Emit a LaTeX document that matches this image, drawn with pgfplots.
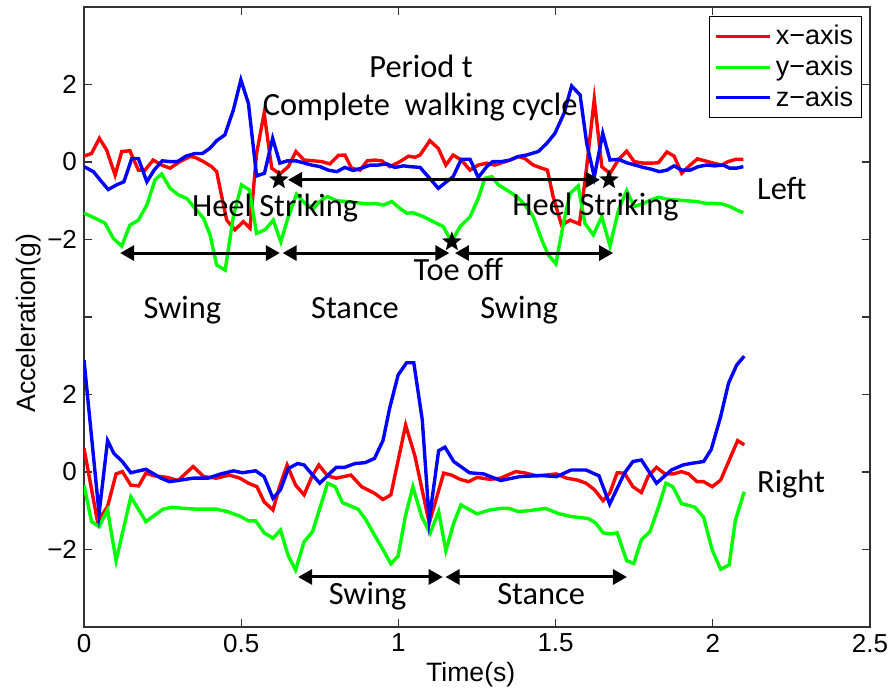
\documentclass[border=0pt]{standalone}
\usepackage{pgfplots}
\pgfplotsset{compat=1.18}
\usepackage{pgfplotstable}
\usepackage{fontspec}
\setmainfont{Liberation Sans}
\newfontfamily\annfont{Carlito}
\usetikzlibrary{arrows.meta}

% filled five-pointed star used for gait events
\pgfdeclareplotmark{fstar}{%
  \pgfpathmoveto{\pgfpointpolar{90}{\pgfplotmarksize}}%
  \pgfpathlineto{\pgfpointpolar{126}{0.42\pgfplotmarksize}}%
  \pgfpathlineto{\pgfpointpolar{162}{\pgfplotmarksize}}%
  \pgfpathlineto{\pgfpointpolar{198}{0.42\pgfplotmarksize}}%
  \pgfpathlineto{\pgfpointpolar{234}{\pgfplotmarksize}}%
  \pgfpathlineto{\pgfpointpolar{270}{0.42\pgfplotmarksize}}%
  \pgfpathlineto{\pgfpointpolar{306}{\pgfplotmarksize}}%
  \pgfpathlineto{\pgfpointpolar{342}{0.42\pgfplotmarksize}}%
  \pgfpathlineto{\pgfpointpolar{18}{\pgfplotmarksize}}%
  \pgfpathlineto{\pgfpointpolar{54}{0.42\pgfplotmarksize}}%
  \pgfpathclose\pgfusepathqfill}

% ---- left foot sensor (plotted with +8 g offset) ----
\pgfplotstableread{
t a
0 0.15
0.024 0.22
0.049 0.61
0.072 0.31
0.099 -0.34
0.12 0.27
0.146 0.29
0.173 -0.21
0.194 -0.21
0.22 0.05
0.247 -0.08
0.274 -0.16
0.305 0.01
0.337 0.14
0.353 0.12
0.38 0.01
0.406 -0.12
0.422 -0.25
0.438 -0.89
0.454 -1.5
0.48 -1.75
0.507 -1.54
0.528 -1.71
0.549 0.22
0.573 1.26
0.597 -0.16
0.623 -0.31
0.65 -0.12
0.674 0.27
0.7 0.05
0.73 0.03
0.756 0.01
0.782 -0.05
0.809 0.17
0.83 0.18
0.851 -0.16
0.878 -0.21
0.901 0.03
0.926 0.05
0.947 0.03
0.973 -0.12
1.005 0.01
1.032 0.15
1.053 0.12
1.069 0.18
1.1 0.55
1.127 0.35
1.151 -0.08
1.174 0.18
1.2 0.05
1.228 -0.21
1.254 -0.08
1.281 -0.03
1.307 -0.08
1.355 0.05
1.381 0.14
1.402 0.09
1.429 -0.08
1.456 -0.16
1.474 -0.21
1.492 -0.89
1.519 -1.63
1.546 -1.5
1.576 -1.6
1.599 -0.12
1.623 1.62
1.647 -0.12
1.673 -0.3
1.699 0.05
1.726 0.28
1.75 0.01
1.779 -0.03
1.803 -0.03
1.827 -0.02
1.854 0.26
1.877 0.15
1.901 -0.29
1.928 -0.08
1.951 0.08
1.975 0.03
2.002 -0.03
2.028 -0.08
2.049 0.01
2.074 0.07
2.097 0.07
}\leftx

\pgfplotstableread{
t a
0 -1.32
0.035 -1.45
0.067 -1.58
0.093 -1.97
0.12 -2.17
0.146 -1.63
0.173 -1.5
0.2 -1.11
0.226 -0.46
0.247 -0.31
0.274 -0.68
0.3 -0.85
0.327 -0.94
0.353 -1.2
0.38 -1.45
0.401 -1.88
0.422 -2.66
0.449 -2.79
0.475 -1.41
0.501 -0.59
0.526 -0.72
0.549 -1.84
0.576 -1.75
0.602 -1.5
0.626 -2.06
0.65 -1.41
0.676 -0.83
0.703 -1.07
0.73 -1.2
0.75 -1.02
0.774 -0.89
0.804 -1.0
0.835 -1.02
0.867 -1.05
0.899 -1.08
0.926 -1.07
0.952 -1.11
0.979 -1.02
1.005 -1.2
1.026 -1.32
1.047 -1.31
1.079 -1.41
1.111 -1.54
1.143 -1.67
1.169 -2.06
1.196 -1.67
1.228 -1.41
1.254 -0.94
1.275 -0.42
1.297 -0.38
1.318 -0.59
1.344 -0.72
1.376 -0.89
1.403 -1.11
1.429 -1.41
1.456 -2.01
1.477 -2.4
1.501 -2.63
1.525 -1.58
1.546 -0.81
1.572 -0.62
1.593 -1.58
1.62 -1.88
1.647 -1.41
1.673 -2.17
1.7 -1.24
1.726 -0.74
1.75 -1.15
1.779 -1.07
1.803 -0.98
1.827 -0.91
1.854 -0.96
1.885 -0.98
1.916 -1.0
1.948 -1.02
1.98 -1.07
2.006 -1.07
2.028 -1.08
2.055 -1.15
2.076 -1.24
2.097 -1.31
}\lefty

\pgfplotstableread{
t a
0 -0.12
0.03 -0.25
0.051 -0.46
0.077 -0.71
0.104 -0.59
0.127 -0.51
0.152 0.09
0.173 0.09
0.2 -0.51
0.223 -0.21
0.249 0.03
0.274 0.01
0.297 0.01
0.324 0.15
0.353 0.22
0.377 0.22
0.4 0.35
0.422 0.55
0.448 0.7
0.475 1.34
0.499 2.12
0.523 1.51
0.549 -0.36
0.574 -0.29
0.6 0.61
0.623 -0.03
0.647 0.03
0.674 0.03
0.698 -0.02
0.724 -0.08
0.751 -0.12
0.777 -0.21
0.804 -0.25
0.83 -0.14
0.856 -0.22
0.883 -0.16
0.91 -0.08
0.936 -0.08
0.963 -0.05
0.989 -0.14
1.016 -0.1
1.037 -0.12
1.069 -0.14
1.095 -0.38
1.127 -0.68
1.153 -0.51
1.174 -0.38
1.2 0.07
1.228 0.07
1.254 -0.4
1.281 -0.12
1.3 0.01
1.328 0.01
1.355 0.05
1.381 0.14
1.408 0.18
1.445 0.27
1.472 0.48
1.498 0.74
1.527 1.26
1.551 1.96
1.578 1.73
1.599 0.48
1.623 -0.38
1.65 0.74
1.673 0.05
1.7 0.07
1.726 -0.02
1.753 -0.08
1.779 -0.14
1.806 -0.19
1.83 -0.25
1.854 -0.21
1.877 -0.1
1.901 -0.21
1.928 -0.21
1.954 -0.12
1.98 -0.08
2.006 -0.1
2.033 -0.08
2.054 -0.16
2.075 -0.16
2.097 -0.12
}\leftz

% ---- right foot sensor ----
\pgfplotstableread{
t a
0 0.61
0.043 -1.28
0.075 -0.89
0.102 -0.05
0.122 0.01
0.149 -0.34
0.174 -0.36
0.197 -0.03
0.224 -0.1
0.265 -0.14
0.299 -0.22
0.347 0.14
0.381 -0.12
0.421 -0.16
0.462 -0.08
0.496 -0.16
0.523 -0.29
0.55 -0.38
0.573 -0.77
0.601 -0.98
0.622 -0.38
0.646 0.18
0.673 -0.34
0.7 -0.59
0.727 -0.08
0.747 0.18
0.775 -0.1
0.802 -0.16
0.849 -0.08
0.883 -0.38
0.924 -0.55
0.951 -0.71
0.976 -0.59
1.023 1.21
1.053 0.4
1.098 -1.32
1.144 -0.03
1.169 -0.08
1.196 -0.19
1.223 -0.25
1.25 -0.14
1.291 -0.19
1.325 -0.16
1.373 0.01
1.4 -0.02
1.44 -0.1
1.468 -0.08
1.502 -0.05
1.536 -0.16
1.57 -0.21
1.597 -0.29
1.624 -0.46
1.651 -0.74
1.672 -0.55
1.696 -0.02
1.719 -0.03
1.746 -0.38
1.773 -0.53
1.794 -0.12
1.821 0.12
1.848 -0.05
1.875 -0.05
1.9 0.01
1.923 -0.05
1.95 -0.25
1.971 -0.25
1.998 -0.38
2.025 -0.21
2.079 0.81
2.1 0.7
}\rightx

\pgfplotstableread{
t a
0 -0.34
0.024 -1.28
0.048 -1.41
0.075 -0.98
0.102 -2.29
0.149 -0.64
0.197 -1.28
0.251 -0.96
0.279 -0.91
0.319 -0.94
0.36 -0.96
0.421 -0.96
0.455 -1.02
0.496 -1.14
0.523 -1.26
0.546 -1.26
0.573 -1.57
0.601 -1.71
0.625 -1.5
0.65 -2.17
0.673 -2.53
0.7 -1.8
0.727 -1.54
0.775 -0.29
0.799 -0.38
0.822 -0.79
0.872 -0.96
0.897 -1.24
0.924 -1.63
0.951 -2.0
0.976 -2.37
0.999 -2.17
1.022 -1.15
1.046 -0.38
1.074 -1.15
1.101 -1.58
1.128 -1.02
1.151 -2.03
1.176 -1.32
1.199 -0.85
1.25 -1.08
1.291 -0.98
1.325 -0.94
1.352 -0.94
1.38 -1.02
1.413 -1.0
1.468 -0.94
1.508 -1.07
1.549 -1.15
1.604 -1.2
1.628 -1.32
1.651 -1.57
1.674 -1.6
1.696 -1.57
1.726 -2.29
1.749 -2.36
1.773 -1.75
1.8 -1.54
1.828 -0.89
1.851 -0.29
1.873 -0.38
1.9 -0.81
1.943 -0.91
1.971 -1.17
1.998 -2.01
2.025 -2.51
2.052 -2.4
2.072 -1.24
2.1 -0.51
}\righty

\pgfplotstableread{
t a
0 2.89
0.048 -1.07
0.075 0.81
0.095 0.48
0.122 0.27
0.149 -0.02
0.197 0.07
0.245 -0.16
0.272 -0.25
0.306 -0.21
0.347 -0.16
0.394 -0.16
0.435 -0.05
0.476 0.03
0.503 -0.02
0.546 0.03
0.573 -0.12
0.601 -0.68
0.625 -0.46
0.65 0.09
0.68 0.22
0.7 0.18
0.75 -0.29
0.802 0.12
0.829 0.12
0.863 0.22
0.894 0.24
0.924 0.35
0.951 0.81
0.972 1.64
0.999 2.5
1.026 2.82
1.049 2.82
1.076 1.34
1.098 -1.24
1.128 0.55
1.148 0.64
1.176 0.27
1.226 -0.02
1.271 -0.05
1.325 -0.22
1.386 -0.12
1.453 -0.09
1.503 -0.12
1.549 0.05
1.597 0.05
1.638 -0.1
1.672 -0.83
1.719 -0.03
1.746 0.27
1.773 0.31
1.821 -0.29
1.868 0.05
1.905 0.18
1.93 0.22
1.971 0.27
1.995 0.58
2.025 1.43
2.05 2.29
2.076 2.76
2.1 2.99
}\rightz

\begin{document}
\begin{tikzpicture}
\path[use as bounding box] (-42pt,-33.5pt) rectangle (403.5pt,313.5pt);
\begin{axis}[
  scale only axis, width=393pt, height=310pt,
  xmin=0, xmax=2.5, ymin=-4, ymax=12,
  xtick={0,0.5,1,1.5,2,2.5}, xticklabels={0,0.5,1,1.5,2,2.5},
  ytick={-2,0,2,4,6,8,10}, yticklabels={−2,0,2,,−2,0,2},
  tick align=inside, major tick length=4pt,
  axis line style={line width=0.6pt, draw=black!80},
  every tick/.style={black!80, line width=0.6pt},
  tick label style={font=\fontsize{13}{15}\selectfont},
  label style={font=\fontsize{13.3}{15}\selectfont},
  xlabel={Time(s)}, ylabel={Acceleration(g)},
  xlabel style={at={(axis description cs:0.492,-0.077)}, anchor=center},
  ylabel style={at={(axis description cs:-0.071,0.49)}, anchor=center},
  legend style={at={(axis description cs:0.99,0.985)}, anchor=north east,
    font=\fontsize{13.5}{15.5}\selectfont, draw=black, line width=0.5pt,
    inner sep=2.3pt, row sep=0pt, legend cell align=left},
  legend image code/.code={\draw[#1] (0pt,0pt) -- (27pt,0pt);},
  every axis plot/.append style={line width=1.7pt},
]
\addplot[red]   table[x=t, y expr=\thisrow{a}+8] {\leftx};
\addplot[green] table[x=t, y expr=\thisrow{a}+8] {\lefty};
\addplot[blue]  table[x=t, y expr=\thisrow{a}+8] {\leftz};
\legend{x−axis, y−axis, z−axis}
\addplot[red, forget plot]   table[x=t, y=a] {\rightx};
\addplot[green, forget plot] table[x=t, y=a] {\righty};
\addplot[blue, forget plot]  table[x=t, y=a] {\rightz};

% gait-phase arrows
\begin{scope}[line width=1.5pt, {Triangle[length=7pt,width=7.5pt]}-{Triangle[length=7pt,width=7.5pt]}]
\draw (axis cs:0.649,7.54) -- (axis cs:1.641,7.54);
\draw (axis cs:0.115,5.65) -- (axis cs:0.623,5.65);
\draw (axis cs:0.632,5.65) -- (axis cs:1.162,5.65);
\draw (axis cs:1.180,5.65) -- (axis cs:1.683,5.65);
\draw (axis cs:0.681,-2.71) -- (axis cs:1.141,-2.71);
\draw (axis cs:1.150,-2.71) -- (axis cs:1.727,-2.71);
\end{scope}
\addplot[only marks, mark=fstar, mark size=5.2pt, black, forget plot]
  coordinates {(0.62,7.54) (1.67,7.54) (1.17,5.94)};

\begin{scope}[every node/.style={font=\annfont\fontsize{16.2}{18}\selectfont, inner sep=0pt}]
\node[anchor=base] at (axis cs:1.072,10.19) {Period t};
\node[anchor=base] at (axis cs:1.069,9.21) {Complete~ walking cycle};
\node[anchor=base] at (axis cs:0.608,6.59) {Heel Striking};
\node[anchor=base] at (axis cs:1.627,6.61) {Heel Striking};
\node[anchor=base] at (axis cs:1.191,4.95) {Toe off};
\node[anchor=base] at (axis cs:0.313,3.97) {Swing};
\node[anchor=base] at (axis cs:0.862,3.97) {Stance};
\node[anchor=base] at (axis cs:1.384,3.97) {Swing};
\node[anchor=base] at (axis cs:0.902,-3.43) {Swing};
\node[anchor=base] at (axis cs:1.454,-3.43) {Stance};
\node[anchor=base west] at (axis cs:2.14,7.02) {Left};
\node[anchor=base west] at (axis cs:2.14,-0.52) {Right};
\end{scope}
\end{axis}
\end{tikzpicture}
\end{document}
